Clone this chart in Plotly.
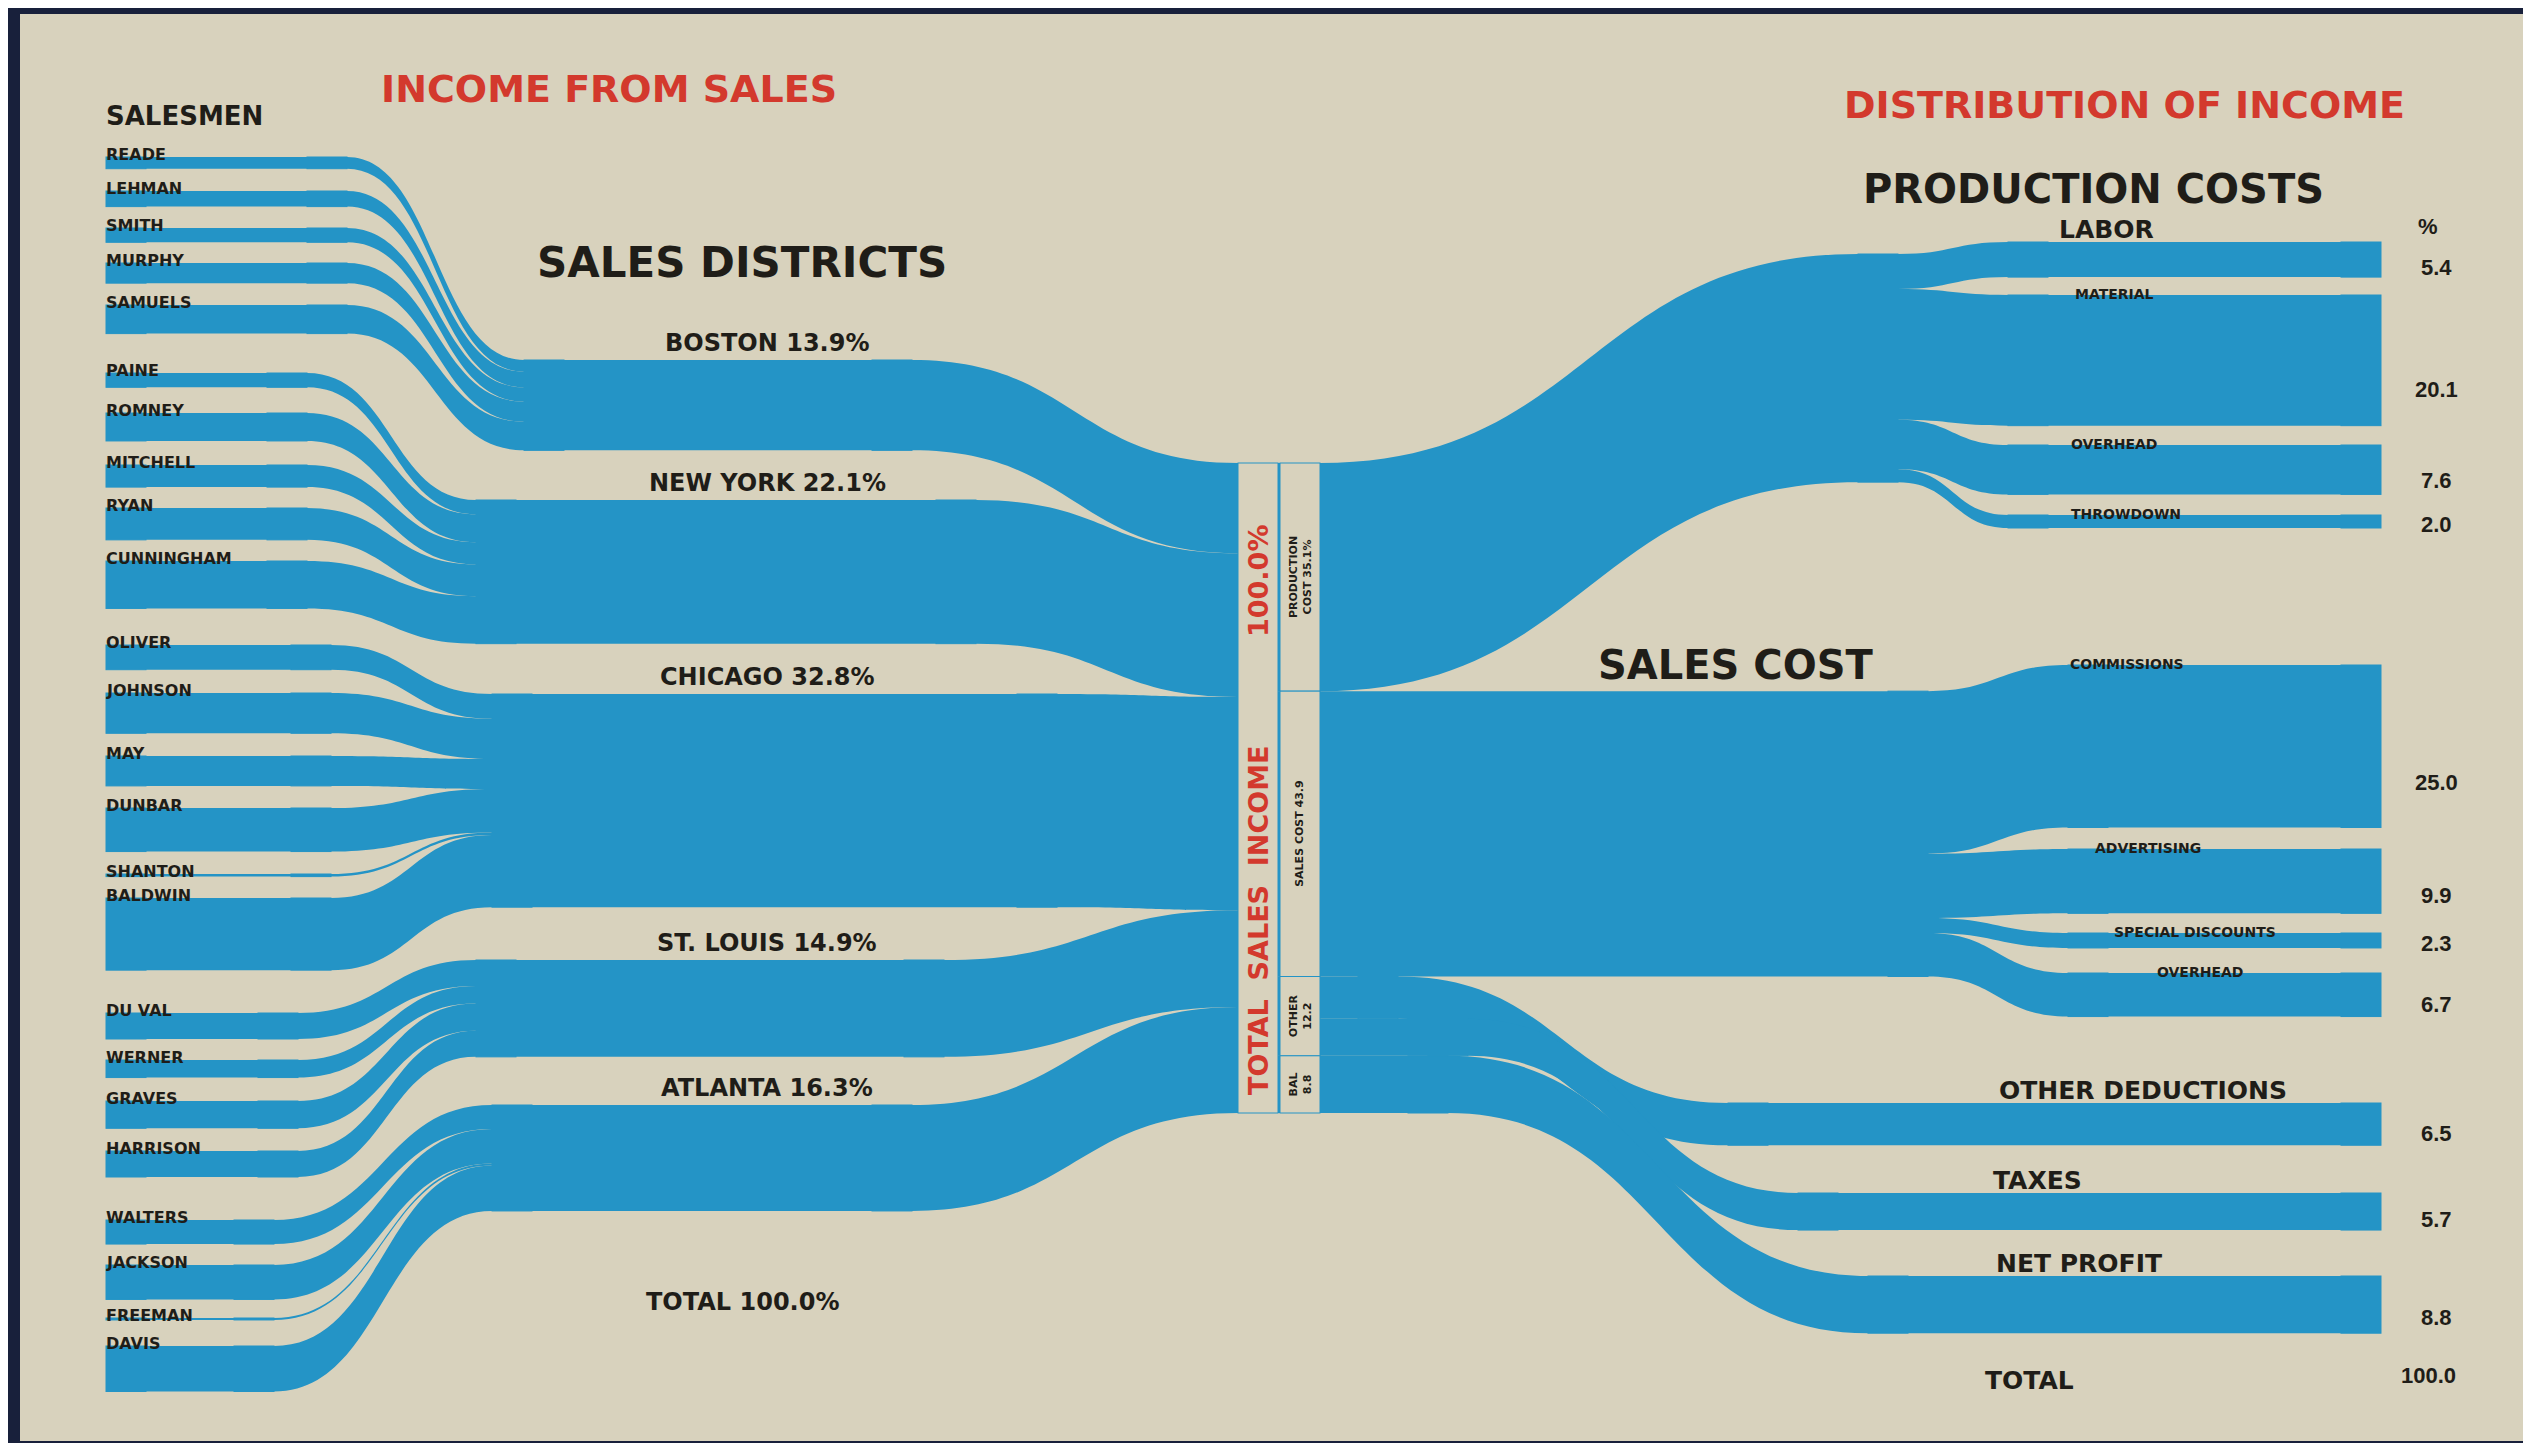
import plotly.graph_objects as go

# ---------------------------------------------------------------- data
salesmen = [
    "READE", "LEHMAN", "SMITH", "MURPHY", "SAMUELS",
    "PAINE", "ROMNEY", "MITCHELL", "RYAN", "CUNNINGHAM",
    "OLIVER", "JOHNSON", "MAY", "DUNBAR", "SHANTON", "BALDWIN",
    "DU VAL", "WERNER", "GRAVES", "HARRISON",
    "WALTERS", "JACKSON", "FREEMAN", "DAVIS",
]
salesman_district = (
    ["BOSTON"] * 5 + ["NEW YORK"] * 5 + ["CHICAGO"] * 6
    + ["ST. LOUIS"] * 4 + ["ATLANTA"] * 4
)
salesman_pct = [
    1.8, 2.4, 2.2, 3.1, 4.4,
    2.2, 4.3, 3.4, 4.9, 7.3,
    3.8, 6.2, 4.6, 6.7, 0.4, 11.1,
    4.0, 2.7, 4.2, 4.0,
    3.7, 5.3, 0.3, 7.0,
]

districts = ["BOSTON", "NEW YORK", "CHICAGO", "ST. LOUIS", "ATLANTA"]
district_pct = [13.9, 22.1, 32.8, 14.9, 16.3]

cost_groups = ["PRODUCTION COST", "SALES COST", "OTHER", "BAL"]
group_pct = [35.1, 43.9, 12.2, 8.8]

items = [
    "LABOR", "MATERIAL", "OVERHEAD", "THROWDOWN",
    "COMMISSIONS", "ADVERTISING", "SPECIAL DISCOUNTS", "OVERHEAD",
    "OTHER DEDUCTIONS", "TAXES", "NET PROFIT",
]
item_group = (
    ["PRODUCTION COST"] * 4 + ["SALES COST"] * 4 + ["OTHER"] * 2 + ["BAL"]
)
item_pct = [5.4, 20.1, 7.6, 2.0, 25.0, 9.9, 2.3, 6.7, 6.5, 5.7, 8.8]

# ---------------------------------------------------------------- layout (page pixels)
W, H = 2531, 1443
SCALE = 6.5          # pixels per percent
THICK = 40           # node width
LEFT_X = 98
TOTAL_X = 1230
GROUP_X = 1272
FINAL_X = 2333
TOTAL_TOP = 455

salesman_top = [
    149, 183, 220, 255, 297,
    365, 405, 457, 500, 553,
    637, 685, 748, 800, 866, 890,
    1005, 1052, 1093, 1143,
    1212, 1257, 1310, 1338,
]
district_top = [352, 492, 686, 952, 1097]
salesman_bend_x = [339, 299, 323, 290, 266]
district_start_x = [516, 468, 484, 468, 484]
district_end_x = [904, 968, 1049, 936, 904]

group_mid_x = [1850, 1880, None, None]
group_mid_top = [246, None, None, None]
item_top = [234, 287, 437, 507, 657, 841, 925, 965, 1095, 1185, 1268]
item_fork_x = [2000, 2000, 2000, 2000, 2060, 2060, 2060, 2060, 1720, 1790, 1860]
item_leave_x = [None] * 8 + [1350, 1420, 1400]
item_label_x = [2098, 2106, 2106, 2118, 2119, 2140, 2187, 2192, 2135, 2029, 2071]
item_big = [True, False, False, False, False, False, False, False, True, True, True]

BLUE = "#2494c6"
CREAM = "#d8d2bd"
INK = "#1f1d18"
RED = "#d3392d"
NAVY = "#18203b"
CLEAR = "rgba(0,0,0,0)"
FONT = "DejaVu Sans"

# ---------------------------------------------------------------- sankey build
nx, ny, ncol, nline = [], [], [], []
src, tgt, val, lcol = [], [], [], []


def node(x_left, top, value, color=BLUE, edge=1.5):
    nx.append((x_left + THICK / 2) / W)
    ny.append((top + value * SCALE / 2) / H)
    ncol.append(color)
    nline.append(edge)
    return len(nx) - 1


def link(s, t, v, color=BLUE):
    src.append(s)
    tgt.append(t)
    val.append(v)
    lcol.append(color)


total = node(TOTAL_X, TOTAL_TOP, sum(district_pct), CREAM, 4)

d_start = []
for i, v in enumerate(district_pct):
    a = node(district_start_x[i], district_top[i], v)
    b = node(district_end_x[i] - THICK, district_top[i], v)
    link(a, b, v)
    link(b, total, v)
    d_start.append(a)

for name, d, v, top in zip(salesmen, salesman_district, salesman_pct, salesman_top):
    i = districts.index(d)
    a = node(LEFT_X, top, v)
    b = node(salesman_bend_x[i] - THICK, top, v)
    link(a, b, v)
    link(b, d_start[i], v)

group_tops = []
top = TOTAL_TOP
for g, (name, v) in enumerate(zip(cost_groups, group_pct)):
    gn = node(GROUP_X, top, v, CREAM, 4)
    group_tops.append(top)
    link(total, gn, v)
    members = [k for k, ig in enumerate(item_group) if ig == name]
    if group_mid_x[g] is not None:
        mid_top = group_mid_top[g] if group_mid_top[g] is not None else top
        mid = node(group_mid_x[g], mid_top, v)
        link(gn, mid, v)
        for k in members:
            f = node(item_fork_x[k], item_top[k], item_pct[k])
            e = node(FINAL_X, item_top[k], item_pct[k])
            link(mid, f, item_pct[k])
            link(f, e, item_pct[k])
    else:
        sub = top
        for k in members:
            lv = node(item_leave_x[k], sub, item_pct[k])
            f = node(item_fork_x[k], item_top[k], item_pct[k])
            e = node(FINAL_X, item_top[k], item_pct[k])
            link(gn, lv, item_pct[k])
            link(lv, f, item_pct[k])
            link(f, e, item_pct[k])
            sub += item_pct[k] * SCALE
    top += v * SCALE

# invisible flow off the page, so one percent keeps SCALE pixels
spare = H / SCALE - 100
ha = node(1000, 2000, spare, CLEAR, 0)
hb = node(1200, 2000, spare, CLEAR, 0)
link(ha, hb, spare, CLEAR)

fig = go.Figure(
    go.Sankey(
        arrangement="fixed",
        hoverinfo="skip",
        node=dict(
            label=[""] * len(nx),
            x=nx,
            y=ny,
            pad=0,
            thickness=THICK,
            color=ncol,
            line=dict(color=BLUE, width=nline),
        ),
        link=dict(
            source=src,
            target=tgt,
            value=val,
            color=lcol,
            line=dict(width=0),
        ),
    )
)

# ---------------------------------------------------------------- text
notes = []


def text(x, y, s, size, color=INK, xanchor="center", yanchor="middle", angle=0, family=FONT):
    notes.append(dict(
        x=x / W, y=1 - y / H, xref="paper", yref="paper", text=s,
        showarrow=False, xanchor=xanchor, yanchor=yanchor, textangle=angle,
        borderpad=0, font=dict(family=family, size=size, color=color, weight="bold"),
    ))


text(601, 81, "INCOME FROM SALES", 38, RED)
text(97, 108, "SALESMEN", 26, xanchor="left")
text(734, 255, "SALES DISTRICTS", 42)
text(2116, 97, "DISTRIBUTION OF INCOME", 38, RED)
text(2085, 181, "PRODUCTION COSTS", 40)
text(1727, 657, "SALES COST", 40)

for name, top in zip(salesmen, salesman_top):
    text(97, top + 8, name, 16, xanchor="left", yanchor="bottom")

for name, v, top in zip(districts, district_pct, district_top):
    text(759, top - 2, f"{name} {v:.1f}%", 24, yanchor="bottom")
text(734, 1294, f"TOTAL {sum(district_pct):.1f}%", 24)

# centre boxes
text(TOTAL_X + THICK / 2, 573, f"{sum(group_pct):.1f}%", 27, RED, angle=-90)
text(TOTAL_X + THICK / 2, 912, "TOTAL  SALES  INCOME", 27, RED, angle=-90)
box_text = [
    f"PRODUCTION<br>COST {group_pct[0]}%",
    f"SALES COST {group_pct[1]}",
    f"OTHER<br>{group_pct[2]}",
    f"BAL<br>{group_pct[3]}",
]
for s, top, v in zip(box_text, group_tops, group_pct):
    text(GROUP_X + THICK / 2, top + v * SCALE / 2, s, 11, angle=-90)

# right-hand labels and values
NUM_X = 2428
text(NUM_X - 8, 218, "%", 22, family="Liberation Sans")
for k, name in enumerate(items):
    h = item_pct[k] * SCALE
    if item_big[k]:
        text(item_label_x[k], item_top[k] + 3, name, 25, yanchor="bottom")
    else:
        text(item_label_x[k], item_top[k] + 8, name, 14, yanchor="bottom")
    text(NUM_X, item_top[k] + 0.72 * h, f"{item_pct[k]:.1f}", 22, family="Liberation Sans")
text(2021, 1372, "TOTAL", 25)
text(NUM_X - 8, 1367, f"{sum(item_pct):.1f}", 22, family="Liberation Sans")

# dark frame of the photographed page
frame = [
    (0, 0, 12, H), (0, 0, W, 6), (W - 8, 0, W, H), (0, H - 10, W, H),
]
shapes = [
    dict(type="rect", xref="paper", yref="paper", x0=a / W, x1=c / W,
         y0=1 - d / H, y1=1 - b / H, fillcolor=NAVY, line=dict(width=0), layer="above")
    for a, b, c, d in frame
]

fig.update_layout(
    width=W,
    height=H,
    margin=dict(l=0, r=0, t=0, b=0, pad=0),
    paper_bgcolor=CREAM,
    plot_bgcolor=CREAM,
    annotations=notes,
    shapes=shapes,
    showlegend=False,
)

fig.write_html("out.html", config={"displayModeBar": False})
